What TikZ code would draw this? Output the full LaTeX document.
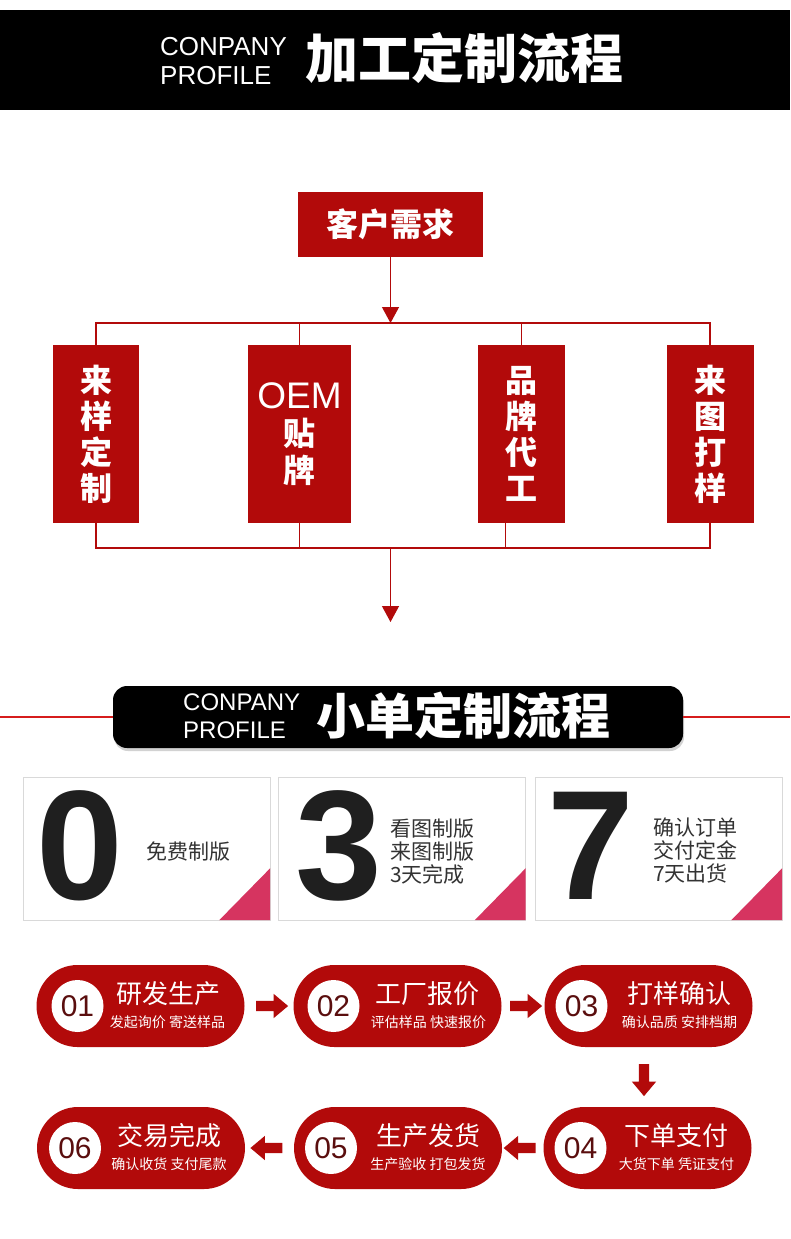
\documentclass[tikz,border=0pt]{standalone}
\usepackage{fontspec}
\usepackage{xcolor}
\usepackage{tikz}
\usetikzlibrary{shapes,arrows.meta,positioning,calc,shadows}
\setmainfont{Liberation Sans}
\newfontfamily\cjk{Noto Sans CJK SC}
\definecolor{flowRed}{RGB}{178,10,10}
\definecolor{lineRed}{RGB}{214,28,28}
\definecolor{cornerPink}{RGB}{214,52,96}
\definecolor{numBrown}{RGB}{90,14,14}
\definecolor{textGray}{RGB}{51,51,51}

\begin{document}
\begin{tikzpicture}[x=1pt, y=-1pt,
    redbox/.style={fill=flowRed, text=white, inner sep=0pt, align=center},
    link/.style={draw=flowRed, line width=1.2pt},
    pill/.style={fill=flowRed, minimum width=208pt, minimum height=82pt, rounded corners=41pt, inner sep=0pt},
    numdot/.style={circle, fill=white, minimum size=52pt, inner sep=0pt, text=numBrown, font=\fontsize{30}{30}\selectfont},
    ptitle/.style={text=white, inner sep=0pt, font=\cjk\fontsize{26}{26}\selectfont},
    psub/.style={text=white, inner sep=0pt, font=\cjk\fontsize{14}{14}\selectfont},
    blockarrow/.style={single arrow, fill=flowRed, inner sep=5pt, minimum height=32pt, single arrow head extend=7pt, single arrow tip angle=80, single arrow head indent=0pt},
    card/.style={draw=black!15, fill=white, minimum width=247pt, minimum height=143pt, inner sep=0pt},
    bigdigit/.style={text=black!88, inner sep=0pt, font=\bfseries\fontsize{156}{156}\selectfont},
    cardtext/.style={text=textGray, inner sep=0pt, align=left, anchor=west, font=\cjk\fontsize{21}{23}\selectfont}
]
    \useasboundingbox (0,0) rectangle (790,1239);
    \fill[white] (0,0) rectangle (790,1239);

    % Header: processing flow
    \fill[black] (0,10) rectangle (790,110);
    \node[anchor=west, text=white, align=left, inner sep=0pt, font=\fontsize{26}{29}\selectfont] (hdrA) at (160,61) {CONPANY\\PROFILE};
    \node[anchor=west, text=white, inner sep=0pt, font=\cjk\bfseries\fontsize{53}{53}\selectfont] (titleA) at (305,58) {加工定制流程};

    % Demand and the four ways
    \node[redbox, minimum width=185pt, minimum height=65pt, font=\cjk\bfseries\fontsize{32}{32}\selectfont] (need) at (390.5,224.5) {客户需求};
    \node[redbox, minimum width=86pt, minimum height=178pt, font=\cjk\bfseries\fontsize{32}{36}\selectfont] (sample) at (96,434) {来\\样\\定\\制};
    \node[redbox, minimum width=103pt, minimum height=178pt, font=\cjk\bfseries\fontsize{32}{37}\selectfont] (oem) at (299.5,434) {{\normalfont\fontsize{37}{37}\selectfont OEM}\\贴\\牌};
    \node[redbox, minimum width=87pt, minimum height=178pt, font=\cjk\bfseries\fontsize{32}{36}\selectfont] (brand) at (521.5,434) {品\\牌\\代\\工};
    \node[redbox, minimum width=87pt, minimum height=178pt, font=\cjk\bfseries\fontsize{32}{36}\selectfont] (drawing) at (710,434) {来\\图\\打\\样};

    % Connectors
    \coordinate (split) at (390.5,323);
    \coordinate (merge) at (390.5,548);
    \coordinate (next) at (390.5,622);
    \coordinate (brandfoot) at ([xshift=-16pt]brand.south);
    \draw[link, -{Triangle[width=17pt,length=16pt]}] (need) -- (split);
    \draw[link] (sample.north) |- (split) -| (drawing.north);
    \draw[link] (oem.north) -- (oem.north |- split);
    \draw[link] (brand.north) -- (brand.north |- split);
    \draw[link] (sample.south) |- (merge) -| (drawing.south);
    \draw[link] (oem.south) -- (oem.south |- merge);
    \draw[link] (brandfoot) -- (brandfoot |- merge);
    \draw[link, -{Triangle[width=17pt,length=16pt]}] (merge) -- (next);

    % Header: small orders
    \coordinate (edgeL) at (0,717);
    \coordinate (edgeR) at (790,717);
    \node[fill=black, rounded corners=14pt, minimum width=570pt, minimum height=62pt, drop shadow={opacity=0.35, shadow xshift=1pt, shadow yshift=-3pt}] (band) at (398,717) {};
    \draw[lineRed, line width=2pt] (edgeL) -- (band.west);
    \draw[lineRed, line width=2pt] (band.east) -- (edgeR);
    \node[anchor=west, text=white, align=left, inner sep=0pt, font=\fontsize{24}{28}\selectfont] (hdrB) at (183,716) {CONPANY\\PROFILE};
    \node[anchor=west, text=white, inner sep=0pt, font=\cjk\bfseries\fontsize{49}{49}\selectfont] (titleB) at (316,716) {小单定制流程};

    % 0 - 3 - 7 cards
    \node[card] (zero) at (146.5,848.5) {};
    \node[card] (three) at (402,848.5) {};
    \node[card] (seven) at (658.5,848.5) {};
    \foreach \c in {zero,three,seven}
        \fill[cornerPink] (\c.south east) -- ([yshift=52pt]\c.south east) -- ([xshift=-51pt]\c.south east) -- cycle;
    \node[bigdigit] (d0) at (80,846) {0};
    \node[bigdigit] (d3) at (339,846) {3};
    \node[bigdigit] (d7) at (591,846) {7};
    \node[cardtext] (t0) at (146,852) {免费制版};
    \node[cardtext] (t3) at (390,852) {看图制版\\来图制版\\3天完成};
    \node[cardtext] (t7) at (653,850) {确认订单\\交付定金\\7天出货};

    % Six steps
    \node[pill] (s1) at (140.5,1006) {};
    \node[pill] (s2) at (397.5,1006) {};
    \node[pill] (s3) at (648.5,1006) {};
    \node[pill] (s4) at (647.5,1148) {};
    \node[pill] (s5) at (398,1148) {};
    \node[pill] (s6) at (141,1148) {};

    \node[numdot] (n1) at ([xshift=-63pt]s1.center) {01};
    \node[ptitle] (h1) at ([xshift=28pt,yshift=12pt]s1.center) {研发生产};
    \node[psub] (b1) at ([xshift=27pt,yshift=-16pt]s1.center) {发起询价 寄送样品};

    \node[numdot] (n2) at ([xshift=-64pt]s2.center) {02};
    \node[ptitle] (h2) at ([xshift=30pt,yshift=12pt]s2.center) {工厂报价};
    \node[psub] (b2) at ([xshift=31pt,yshift=-16pt]s2.center) {评估样品 快速报价};

    \node[numdot] (n3) at ([xshift=-67pt]s3.center) {03};
    \node[ptitle] (h3) at ([xshift=31pt,yshift=12pt]s3.center) {打样确认};
    \node[psub] (b3) at ([xshift=31pt,yshift=-16pt]s3.center) {确认品质 安排档期};

    \node[numdot] (n4) at ([xshift=-67pt]s4.center) {04};
    \node[ptitle] (h4) at ([xshift=29pt,yshift=12pt]s4.center) {下单支付};
    \node[psub] (b4) at ([xshift=29pt,yshift=-16pt]s4.center) {大货下单 凭证支付};

    \node[numdot] (n5) at ([xshift=-67pt]s5.center) {05};
    \node[ptitle] (h5) at ([xshift=30pt,yshift=12pt]s5.center) {生产发货};
    \node[psub] (b5) at ([xshift=30pt,yshift=-16pt]s5.center) {生产验收 打包发货};

    \node[numdot] (n6) at ([xshift=-66pt]s6.center) {06};
    \node[ptitle] (h6) at ([xshift=28pt,yshift=12pt]s6.center) {交易完成};
    \node[psub] (b6) at ([xshift=28pt,yshift=-16pt]s6.center) {确认收货 支付尾款};

    % Arrows between steps
    \node[blockarrow] (a12) at ($(s1.east)!0.5!(s2.west)$) {};
    \node[blockarrow] (a23) at ($(s2.east)!0.5!(s3.west)$) {};
    \node[blockarrow, shape border rotate=270] (a34) at ([xshift=-4pt]$(s3.south)!0.5!(s4.north)$) {};
    \node[blockarrow, shape border rotate=180] (a45) at ($(s4.west)!0.5!(s5.east)$) {};
    \node[blockarrow, shape border rotate=180] (a56) at ($(s5.west)!0.5!(s6.east)$) {};
\end{tikzpicture}
\end{document}
